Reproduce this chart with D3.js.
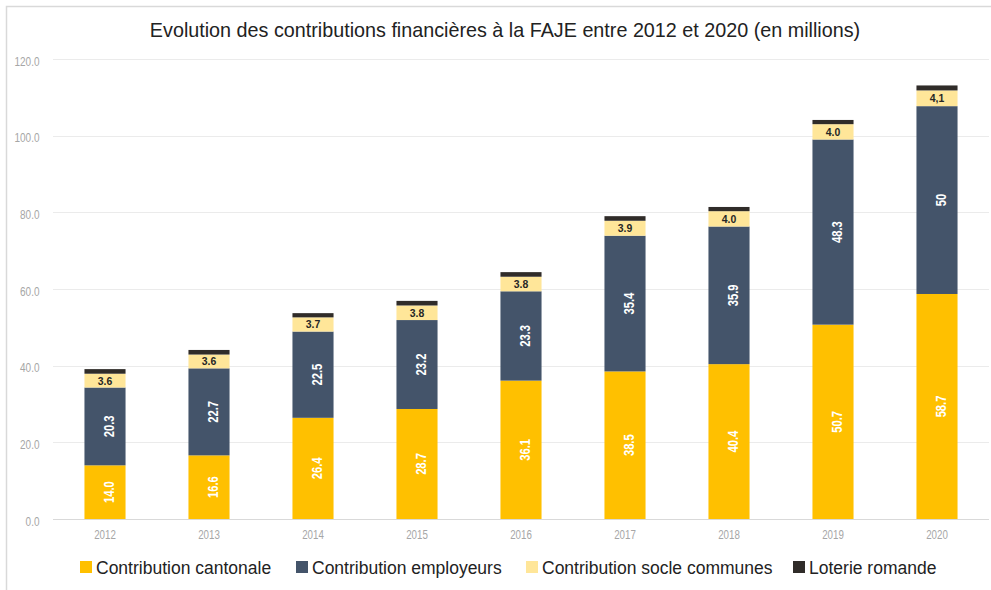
<!DOCTYPE html>
<html><head><meta charset="utf-8">
<script src="https://cdn.jsdelivr.net/npm/d3@7/dist/d3.min.js"></script>
<style>
body{margin:0;background:#fff;}
svg{display:block;font-family:"Liberation Sans",Arial,sans-serif;}
</style></head>
<body><svg id="c" width="991" height="590"></svg>
<script>
const years = ["2012","2013","2014","2015","2016","2017","2018","2019","2020"];
const cantonale = [14.0,16.6,26.4,28.7,36.1,38.5,40.4,50.7,58.7];
const employeurs = [20.3,22.7,22.5,23.2,23.3,35.4,35.9,48.3,49.0];
const socle = [3.6,3.6,3.7,3.8,3.8,3.9,4.0,4.0,4.1];
const loterie = [1.2,1.2,1.1,1.2,1.2,1.2,1.1,1.1,1.3];
const cantonaleLabels = ["14.0","16.6","26.4","28.7","36.1","38.5","40.4","50.7","58.7"];
const employeursLabels = ["20.3","22.7","22.5","23.2","23.3","35.4","35.9","48.3","50"];
const socleLabels = ["3.6","3.6","3.7","3.8","3.8","3.9","4.0","4.0","4,1"];
const yTicks = [0,20,40,60,80,100,120];
const seriesNames = ["Contribution cantonale","Contribution employeurs","Contribution socle communes","Loterie romande"];
const colors = ["#FFC000","#44546A","#FFE699","#302C29"];
const title = "Evolution des contributions financières à la FAJE entre 2012 et 2020 (en millions)";

const svg = d3.select("#c");
svg.append("rect").attr("x",6.5).attr("y",6.5).attr("width",1000).attr("height",600)
  .attr("fill","none").attr("stroke","#d9d9d9").attr("stroke-width",1.5);

const m = {left:53, right:2, top:59, bottom:71};
const W = 991, H = 590;
const x = d3.scaleBand().domain(years).range([m.left, W-m.right]).paddingInner(0.605).paddingOuter(0.3025);
const y = d3.scaleLinear().domain([0,120]).range([H-m.bottom, m.top]);

svg.append("text").attr("x",505).attr("y",37).attr("text-anchor","middle")
  .attr("font-size",19.75).attr("fill","#222").text(title);

// grid
const g = svg.append("g");
g.selectAll("line.grid").data(yTicks).join("line")
  .attr("x1",m.left).attr("x2",W-m.right)
  .attr("y1",d=>Math.round(y(d))+0.5).attr("y2",d=>Math.round(y(d))+0.5)
  .attr("stroke",d=>d===0?"#d9d9d9":"#ebebeb").attr("stroke-width",1);
g.selectAll("text.yt").data(yTicks).join("text")
  .attr("transform",d=>`translate(39.5,${y(d)+6.5}) scale(0.8,1)`).attr("text-anchor","end")
  .attr("font-size",12.5).attr("fill","#a6a6a6").text(d=>d.toFixed(1));

const data = years.map((yr,i)=>({year:yr, c:cantonale[i], e:employeurs[i], s:socle[i], l:loterie[i], i}));
const stack = d3.stack().keys(["c","e","s","l"])(data);

stack.forEach((layer,k)=>{
  svg.append("g").selectAll("rect").data(layer).join("rect")
    .attr("x",d=>x(d.data.year)).attr("width",x.bandwidth())
    .attr("y",d=>y(d[1])).attr("height",d=>y(d[0])-y(d[1]))
    .attr("fill",colors[k]);
});

// rotated labels
const rotLayers = [[stack[0],cantonaleLabels],[stack[1],employeursLabels]];
rotLayers.forEach(([layer,labels])=>{
  svg.append("g").selectAll("text").data(layer).join("text")
    .attr("transform",d=>`translate(${x(d.data.year)+x.bandwidth()/2+8.5},${(y(d[0])+y(d[1]))/2}) rotate(-90) scale(0.8,1)`)
    .attr("text-anchor","middle").attr("font-size",14).attr("font-weight","bold")
    .attr("fill","#fff").text((d,i)=>labels[i]);
});
svg.append("g").selectAll("text").data(stack[2]).join("text")
  .attr("transform",d=>`translate(${x(d.data.year)+x.bandwidth()/2},${(y(d[0])+y(d[1]))/2+4}) scale(0.95,1)`)
  .attr("text-anchor","middle").attr("font-size",11).attr("font-weight","bold")
  .attr("fill","#262626").text((d,i)=>socleLabels[i]);

// x labels
svg.append("g").selectAll("text").data(years).join("text")
  .attr("transform",d=>`translate(${x(d)+x.bandwidth()/2},539) scale(0.75,1)`).attr("text-anchor","middle")
  .attr("font-size",13).attr("fill","#a6a6a6").text(d=>d);

// legend
const legX = [80,296,526,793];
const leg = svg.append("g");
seriesNames.forEach((n,k)=>{
  leg.append("rect").attr("x",legX[k]).attr("y",561).attr("width",12).attr("height",12).attr("fill",colors[k]);
  leg.append("text").attr("x",legX[k]+16).attr("y",573.5).attr("font-size",17.5).attr("fill","#222").text(n);
});
</script></body></html>
